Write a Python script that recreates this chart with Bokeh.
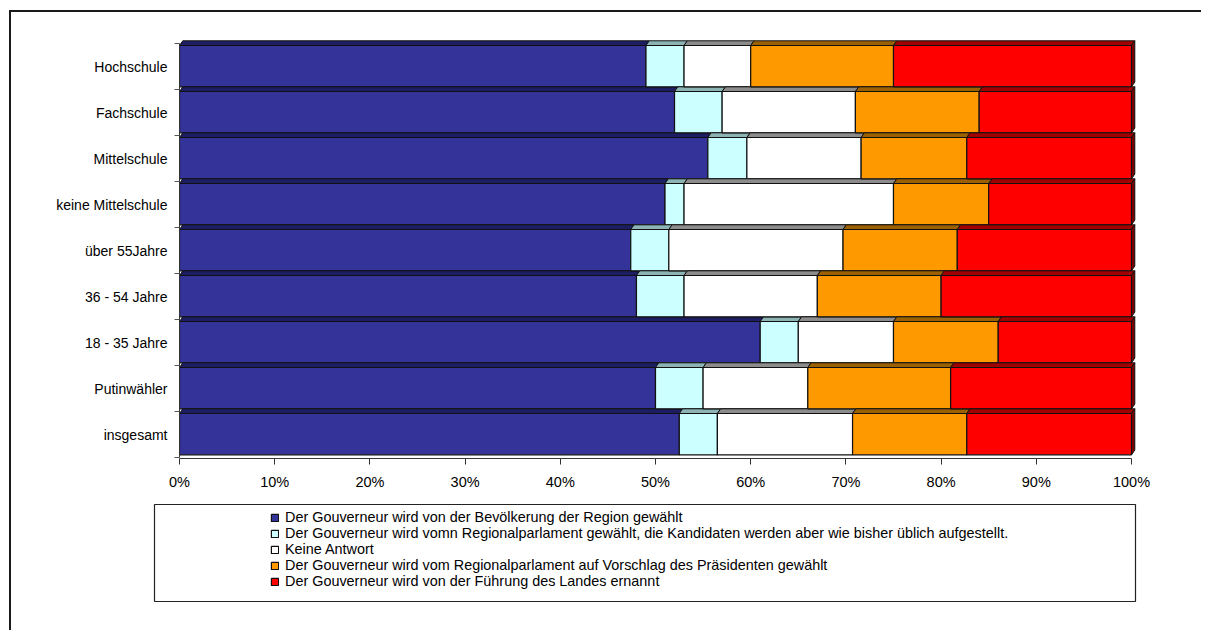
import numpy as np
from bokeh.plotting import figure
from bokeh.layouts import column, row
from bokeh.models import (Range1d, FixedTicker, CustomJSTickFormatter, PrintfTickFormatter,
                          Legend, LegendItem, ColumnDataSource, Div, Spacer)
from bokeh.embed import file_html
from bokeh.resources import INLINE

# Survey answers by group (percent), listed bottom row first
categories = ["insgesamt", "Putinwähler", "18 - 35 Jahre", "36 - 54 Jahre", "über 55Jahre",
              "keine Mittelschule", "Mittelschule", "Fachschule", "Hochschule"]

series_labels = [
    "Der Gouverneur wird von der Bevölkerung der Region gewählt",
    "Der Gouverneur wird vomn Regionalparlament gewählt, die Kandidaten werden aber wie bisher üblich aufgestellt.",
    "Keine Antwort",
    "Der Gouverneur wird vom Regionalparlament auf Vorschlag des Präsidenten gewählt",
    "Der Gouverneur wird von der Führung des Landes ernannt",
]

bevoelkerung = [52.5, 50.0, 61.0, 48.0, 47.4, 51.0, 55.5, 52.0, 49.0]
regionalparlament = [4.0, 5.0, 4.0, 5.0, 4.0, 2.0, 4.1, 5.0, 4.0]
keine_antwort = [14.2, 11.0, 10.0, 14.0, 18.3, 22.0, 12.0, 14.0, 7.0]
praesident = [12.0, 15.0, 11.0, 13.0, 12.0, 10.0, 11.1, 13.0, 15.0]
ernannt = [17.3, 19.0, 14.0, 20.0, 18.3, 15.0, 17.3, 16.0, 25.0]

x_ticks = [0, 10, 20, 30, 40, 50, 60, 70, 80, 90, 100]

series = [bevoelkerung, regionalparlament, keine_antwort, praesident, ernannt]
front_colors = ["#333399", "#CCFFFF", "#FFFFFF", "#FF9900", "#FF0000"]
top_colors = ["#1d1d63", "#8cb4b4", "#8c8c8c", "#9c6000", "#a00000"]
side_color = "#7a0000"
rule_color = "#1a1a1a"

FONT = "Liberation Sans"

# page geometry (pixels); the chart box starts at (9, 10) with a 2px rule on top and left
W, H = 1201, 630
BOX_X, BOX_Y = 9, 10
BORDER = 2
OX, OY = BOX_X + BORDER, BOX_Y + BORDER
INNER_W = W - OX
INNER_H = H - OY

# main plot: frame edges in page pixels
FRAME_L, FRAME_R, FRAME_T, FRAME_B = 179, 1137, 37, 458
MAIN_BOTTOM = 495           # page y where the legend panel begins
PX_PCT = 9.52               # pixels per percent
PX_ROW = 46.0               # pixels per category row
ROW0_PX = 457               # page y of the lowest category boundary

x_range = Range1d(0, (FRAME_R - FRAME_L) / PX_PCT)
y_range = Range1d((ROW0_PX - FRAME_B) / PX_ROW, (ROW0_PX - FRAME_T) / PX_ROW)

p = figure(width=INNER_W, height=MAIN_BOTTOM - OY, x_range=x_range, y_range=y_range,
           output_backend="svg", toolbar_location=None, title=None,
           min_border_left=FRAME_L - OX, min_border_right=OX + INNER_W - FRAME_R,
           min_border_top=FRAME_T - OY, min_border_bottom=MAIN_BOTTOM - FRAME_B)
p.frame_align = False
p.outline_line_color = None
p.grid.visible = False
p.background_fill_color = "white"
p.border_fill_color = "white"

# bar geometry in row units
FRONT_BOTTOM = 2.7 / PX_ROW
FRONT_TOP = 1 - 2.0 / PX_ROW
DEPTH_Y = 4.7 / PX_ROW
DEPTH_X = 3.3 / PX_PCT

rows = np.arange(len(categories))
values = np.array(series, dtype=float)
rights = np.cumsum(values, axis=0)
lefts = rights - values

sources = []
for k in range(len(series)):
    src = ColumnDataSource(dict(left=lefts[k], right=rights[k],
                                bottom=rows + FRONT_BOTTOM, top=rows + FRONT_TOP))
    sources.append(src)
    p.quad(left="left", right="right", bottom="bottom", top="top", source=src,
           fill_color=front_colors[k], line_color="#111111", line_width=1.2)

    # slanted top face of each segment
    xs, ys = [], []
    for i in rows:
        x0, x1 = lefts[k][i], rights[k][i]
        b = i + FRONT_TOP
        t = b + DEPTH_Y
        xs.append([x0, x1, x1 + DEPTH_X, x0 + DEPTH_X])
        ys.append([b, b, t, t])
    p.patches(xs, ys, fill_color=top_colors[k], line_color="#111111", line_width=1)

# right side face of the last segment
xs, ys = [], []
for i in rows:
    x1 = rights[-1][i]
    b, t = i + FRONT_BOTTOM, i + FRONT_TOP
    xs.append([x1, x1 + DEPTH_X, x1 + DEPTH_X, x1])
    ys.append([b, b + DEPTH_Y, t + DEPTH_Y, t])
p.patches(xs, ys, fill_color=side_color, line_color="#111111", line_width=1)

# x axis: percentages
xa = p.xaxis[0]
xa.ticker = FixedTicker(ticks=x_ticks)
xa.formatter = PrintfTickFormatter(format="%d%%")
xa.bounds = (0, 100)
xa.axis_line_color = "#333333"
xa.major_tick_line_color = "#333333"
xa.major_tick_in = 0
xa.major_tick_out = 6
xa.minor_tick_line_color = None
xa.major_label_text_font = FONT
xa.major_label_text_font_size = "14.5px"
xa.major_label_text_color = "#000000"
xa.major_label_standoff = 9

# y axis: category names between boundary ticks
ya = p.yaxis[0]
ya.ticker = FixedTicker(ticks=[i + 0.5 for i in rows], minor_ticks=list(range(len(categories) + 1)))
ya.formatter = CustomJSTickFormatter(
    args=dict(labels=categories),
    code="const i = Math.floor(tick); return (i >= 0 && i < labels.length) ? labels[i] : '';")
ya.bounds = (0, len(categories))
ya.axis_line_color = "#333333"
ya.major_tick_line_color = None
ya.major_tick_in = 0
ya.major_tick_out = 0
ya.minor_tick_line_color = "#555555"
ya.minor_tick_in = 0
ya.minor_tick_out = 5
ya.major_label_text_font = FONT
ya.major_label_text_font_size = "14px"
ya.major_label_text_color = "#000000"
ya.major_label_standoff = 7

# legend panel: its frame is the legend box
LEG_L, LEG_R, LEG_T, LEG_B = 154, 1135, 504, 601
leg_h = OY + INNER_H - MAIN_BOTTOM
leg = figure(width=INNER_W, height=leg_h, x_range=Range1d(-3, -2), y_range=Range1d(-3, -2),
             output_backend="svg", toolbar_location=None, title=None,
             x_axis_location=None, y_axis_location=None,
             min_border_left=LEG_L - OX, min_border_right=OX + INNER_W - LEG_R,
             min_border_top=LEG_T - MAIN_BOTTOM, min_border_bottom=MAIN_BOTTOM + leg_h - LEG_B)
leg.frame_align = False
leg.grid.visible = False
leg.outline_line_color = "#222222"
leg.outline_line_width = 1.2
leg.background_fill_color = "white"
leg.border_fill_color = "white"

# legend swatches share the bar sources; the panel's ranges keep the bars themselves out of view
swatches = []
for k in range(len(series)):
    r = leg.quad(left="left", right="right", bottom="bottom", top="top", source=sources[k],
                 fill_color=front_colors[k], line_color="#111111", line_width=1.2)
    swatches.append(r)

legend = Legend(items=[LegendItem(label=lab, renderers=[r])
                       for lab, r in zip(series_labels, swatches)],
                location=(270 - LEG_L, LEG_B - 589),
                orientation="vertical", padding=0, margin=0, spacing=0,
                glyph_width=9, glyph_height=9, label_height=16, label_standoff=6,
                border_line_color=None, background_fill_alpha=0,
                label_text_font=FONT, label_text_font_size="14.4px",
                label_text_color="#000000")
leg.add_layout(legend)

# rules of the chart box: top and left edges
top_rule = Div(text="", width=INNER_W + BORDER, height=BORDER, margin=0,
               styles={"background-color": rule_color})
left_rule = Div(text="", width=BORDER, height=INNER_H, margin=0,
                styles={"background-color": rule_color})

body = column(p, leg, spacing=0)
box = column(top_rule, row(left_rule, body, spacing=0), spacing=0)
layout = column(Spacer(width=W, height=BOX_Y),
                row(Spacer(width=BOX_X, height=H - BOX_Y), box, spacing=0),
                spacing=0)

open("out.html", "w").write(file_html(layout, INLINE))
